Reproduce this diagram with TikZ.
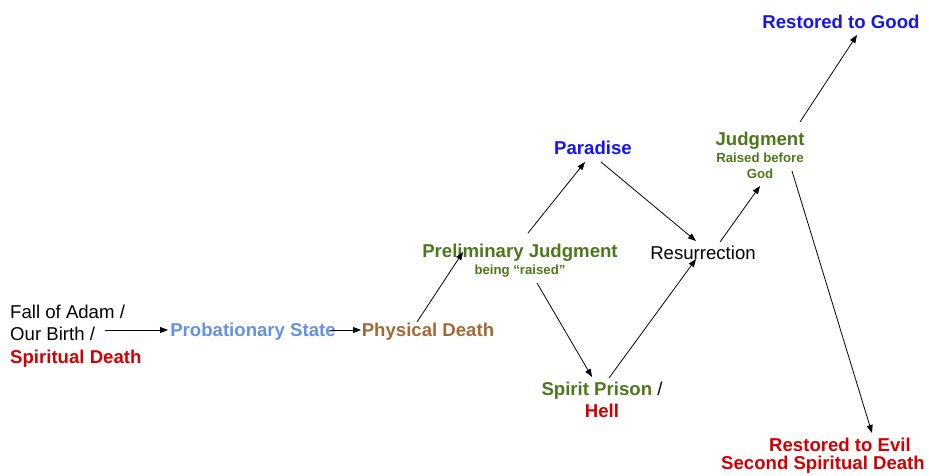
\documentclass[tikz,border=0pt]{standalone}
\usepackage{fontspec}
\setmainfont{Liberation Sans}
\usetikzlibrary{arrows.meta}
\definecolor{cgreen}{RGB}{75,120,25}
\definecolor{cred}{RGB}{210,0,0}
\definecolor{cblue}{RGB}{20,20,240}
\definecolor{cprob}{RGB}{100,145,225}
\definecolor{cbrown}{RGB}{160,105,55}
\begin{document}
\begin{tikzpicture}[x=1pt,y=-1pt,
  txt/.style={font=\fontsize{18.6}{22.3}\selectfont, inner sep=0pt},
  lbl/.style={font=\fontsize{18.6}{22.3}\selectfont\bfseries, inner sep=0pt},
  sub/.style={font=\fontsize{13.2}{16}\selectfont\bfseries, inner sep=0pt, text=cgreen, align=center},
  arr/.style={-{Triangle[length=8pt,width=6pt]}, line width=0.8pt}]
\useasboundingbox (0,0) rectangle (929,475);
% nodes
\node[txt, anchor=west, align=left] (fall) at (10,336) {Fall of Adam /\\Our Birth /\\\textbf{\textcolor{cred}{Spiritual Death}}};
\node[lbl, text=cprob] (prob) at (253,332) {Probationary State};
\node[lbl, text=cbrown] (phys) at (428,332) {Physical Death};
\node[lbl, text=cgreen] (prel) at (520,253) {Preliminary Judgment};
\node[sub] (prelsub) at (520,271) {being “raised”};
\node[lbl, text=cblue] (para) at (593,148) {Paradise};
\node[txt] (res) at (703,253) {Resurrection};
\node[txt, align=center] (prison) at (602,400) {\textbf{\textcolor{cgreen}{Spirit Prison}} /\\\textbf{\textcolor{cred}{Hell}}};
\node[lbl, text=cgreen] (judg) at (760,141) {Judgment};
\node[sub] (judgsub) at (760,166) {Raised before\\God};
\node[lbl, text=cblue] (good) at (841,22) {Restored to Good};
\node[lbl, text=cred] (evil) at (840,445) {Restored to Evil};
\node[lbl, text=cred] (evil2) at (823,465) {Second Spiritual Death};
% connectors
\draw[arr] ([shift={(29,-6)}]fall.center) -- ([shift={(-85,-2)}]prob.center);
\draw[arr] ([shift={(77,-2)}]prob.center) -- ([shift={(-67,-2)}]phys.center);
\draw[arr] ([shift={(-11,-10)}]phys.center) -- ([shift={(-57,-1)}]prel.center);
\draw[arr] ([shift={(8,-20)}]prel.center) -- ([shift={(-8,14)}]para.center);
\draw[arr] ([shift={(8,14)}]para.center) -- ([shift={(-7,-12)}]res.center);
\draw[arr] ([shift={(17,30)}]prel.center) -- ([shift={(-10,-23)}]prison.center);
\draw[arr] ([shift={(7,-22)}]prison.center) -- ([shift={(-7,6)}]res.center);
\draw[arr] ([shift={(17,-11)}]res.center) -- ([shift={(0,20)}]judgsub.center);
\draw[arr] ([shift={(40,-19)}]judg.center) -- ([shift={(16,13)}]good.center);
\draw[arr] ([shift={(32,5)}]judgsub.center) -- ([shift={(32,-12)}]evil.center);
\end{tikzpicture}
\end{document}
